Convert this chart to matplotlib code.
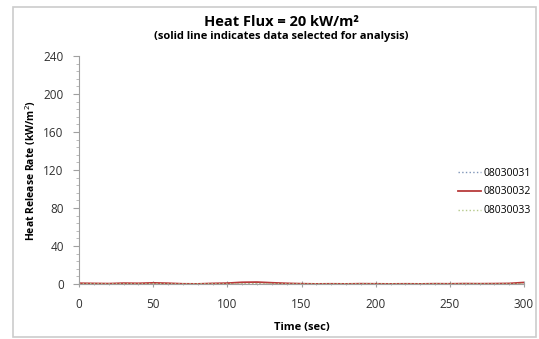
import matplotlib.pyplot as plt
from matplotlib.patches import Rectangle
from matplotlib.ticker import MultipleLocator

plt.rcParams["font.family"] = ["Open Sans", "DejaVu Sans"]

time_s = [0, 10, 20, 30, 40, 50, 60, 70, 80, 90, 100, 110, 120, 130, 140, 150,
          160, 170, 180, 190, 200, 210, 220, 230, 240, 250, 260, 270, 280, 290, 300]
hrr_08030031 = [0.4, 0.3, 0.2, 0.4, 0.3, 0.5, 0.3, 0.2, 0.2, 0.4, 0.5, 0.6, 0.5, 0.4, 0.3, 0.2,
                0.2, 0.3, 0.2, 0.4, 0.3, 0.2, 0.3, 0.2, 0.3, 0.2, 0.3, 0.2, 0.3, 0.2, 0.4]
hrr_08030032 = [0.8, 0.6, 0.4, 0.9, 0.7, 1.2, 0.8, 0.2, 0.1, 0.6, 0.9, 1.8, 2.0, 1.3, 0.7, 0.3,
                0.1, 0.2, 0.1, 0.3, 0.2, 0.1, 0.2, 0.1, 0.3, 0.2, 0.4, 0.3, 0.4, 0.6, 1.6]
hrr_08030033 = [0.2, 0.3, 0.2, 0.3, 0.2, 0.4, 0.2, 0.1, 0.2, 0.3, 0.2, 0.3, 0.4, 0.3, 0.2, 0.1,
                0.2, 0.1, 0.2, 0.2, 0.1, 0.2, 0.1, 0.2, 0.2, 0.1, 0.2, 0.2, 0.1, 0.2, 0.3]

W, H = 539, 339
fig = plt.figure(figsize=(W / 100, H / 100), dpi=100)
fig.patches.append(Rectangle((13 / W, 2 / H), 523 / W, 330 / H,
                             transform=fig.transFigure, fill=False,
                             edgecolor="#cccccc", linewidth=1.2))
ax = fig.add_axes([79 / W, 55 / H, 445 / W, 228 / H])

ax.plot(time_s, hrr_08030031, color="#7f95b8", linestyle=":", linewidth=1.0, label="08030031")
ax.plot(time_s, hrr_08030032, color="#b83a3a", linestyle="-", linewidth=1.3, label="08030032")
ax.plot(time_s, hrr_08030033, color="#b5c98a", linestyle=":", linewidth=1.0, label="08030033")

ax.set_xlim(0, 300)
ax.set_ylim(0, 240)
ax.xaxis.set_major_locator(MultipleLocator(50))
ax.xaxis.set_minor_locator(MultipleLocator(10))
ax.yaxis.set_major_locator(MultipleLocator(40))
ax.yaxis.set_minor_locator(MultipleLocator(8))
for side in ("top", "right"):
    ax.spines[side].set_visible(False)
for side in ("left", "bottom"):
    ax.spines[side].set_color("#a0a0a0")
    ax.spines[side].set_linewidth(0.8)
ax.tick_params(which="major", length=4, color="#a0a0a0", labelsize=8.5,
               labelcolor="#303030", pad=7)
ax.tick_params(which="minor", length=2, color="#b0b0b0")
ax.tick_params(axis="x", which="both", direction="inout")
ax.tick_params(axis="x", which="major", pad=8)

ax.set_xlabel("Time (sec)", fontsize=8, fontweight="bold", labelpad=8)
ax.set_ylabel("Heat Release Rate (kW/m$^2$)", fontsize=7.5, fontweight="bold", labelpad=4)

fig.text(281 / W, 1 - 22 / H, "Heat Flux = 20 kW/m²", ha="center", va="center",
         fontsize=10.5, fontweight="bold")
fig.text(281 / W, 1 - 36 / H, "(solid line indicates data selected for analysis)",
         ha="center", va="center", fontsize=8, fontweight="bold")

leg = ax.legend(loc="center left", bbox_to_anchor=(449 / W, 1 - 192 / H),
                bbox_transform=fig.transFigure, frameon=False, fontsize=7.5,
                handlelength=2.2, handletextpad=0.2, labelspacing=0.75)

fig.savefig("out.png", dpi=100)
